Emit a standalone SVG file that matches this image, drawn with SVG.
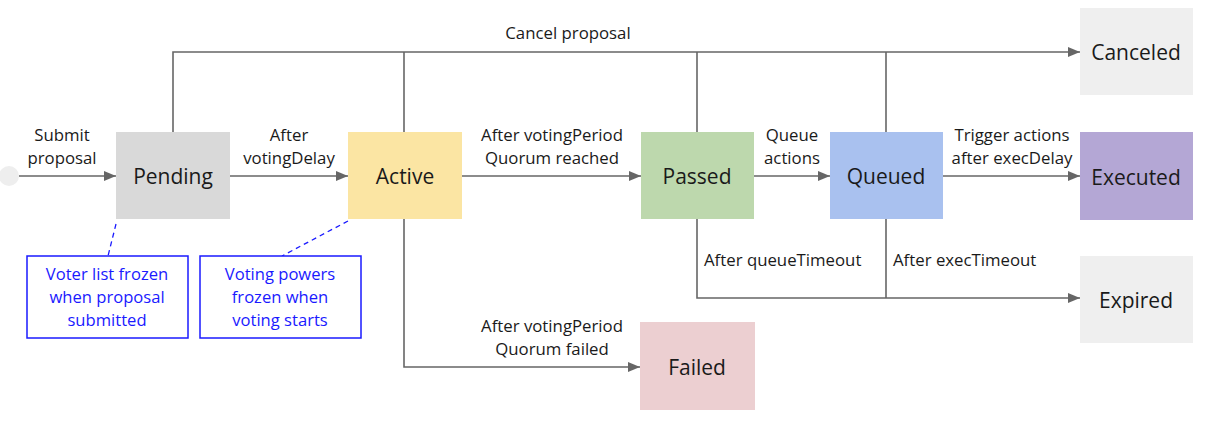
<svg xmlns="http://www.w3.org/2000/svg" width="1214" height="426" viewBox="0 0 1214 426">
<style>
.node{stroke:none}
.nl{font-family:"Open Sans","Noto Sans",sans-serif;font-size:21px;fill:#1a1a1a;text-anchor:middle;dominant-baseline:central}
.el{font-family:"Open Sans","Noto Sans",sans-serif;font-size:16.8px;fill:#1a1a1a;text-anchor:middle}
.el2{font-family:"Open Sans","Noto Sans",sans-serif;font-size:16.8px;fill:#1a1a1a;text-anchor:start}
.c{fill:none;stroke:#666;stroke-width:1.6}
.ca{fill:none;stroke:#666;stroke-width:1.6;marker-end:url(#ah)}
.note{fill:#fff;stroke:#1a1aff;stroke-width:1.5}
.nt{font-family:"Open Sans","Noto Sans",sans-serif;font-size:16.6px;fill:#1a1aff;text-anchor:middle}
.dash{fill:none;stroke:#1a1aff;stroke-width:1.3;stroke-dasharray:5,4}
</style>
<defs>
<marker id="ah" viewBox="0 0 12 10" refX="12" refY="5" markerWidth="12" markerHeight="10" markerUnits="userSpaceOnUse" orient="auto">
<path d="M0,0 L12,5 L0,10 z" fill="#666"/>
</marker>
</defs>
<rect width="1214" height="426" fill="#fff"/>
<g id="connectors">
<line class="ca" x1="19" y1="176" x2="116" y2="176"/>
<line class="ca" x1="229" y1="176" x2="348" y2="176"/>
<line class="ca" x1="462" y1="176" x2="641" y2="176"/>
<line class="ca" x1="754" y1="176" x2="830" y2="176"/>
<line class="ca" x1="943" y1="176" x2="1080" y2="176"/>
<polyline class="ca" points="173,132 173,52 1080,52"/>
<line class="c" x1="404" y1="132" x2="404" y2="52"/>
<line class="c" x1="697" y1="132" x2="697" y2="52"/>
<line class="c" x1="886" y1="132" x2="886" y2="52"/>
<polyline class="ca" points="404,219 404,367 640,367"/>
<polyline class="ca" points="697,219 697,298 1080,298"/>
<line class="c" x1="886" y1="219" x2="886" y2="298"/>
<text class="el" x="568" y="39">Cancel proposal</text>
<text class="el" x="62" y="141">Submit</text>
<text class="el" x="62" y="164">proposal</text>
<text class="el" x="289" y="141">After</text>
<text class="el" x="289" y="164">votingDelay</text>
<text class="el" x="552" y="141">After votingPeriod</text>
<text class="el" x="552" y="164">Quorum reached</text>
<text class="el" x="792" y="141">Queue</text>
<text class="el" x="792" y="164">actions</text>
<text class="el" x="1012" y="141">Trigger actions</text>
<text class="el" x="1012" y="164">after execDelay</text>
<text class="el2" x="704" y="266">After queueTimeout</text>
<text class="el2" x="893" y="266">After execTimeout</text>
<text class="el" x="552" y="332">After votingPeriod</text>
<text class="el" x="552" y="355">Quorum failed</text>
<line class="dash" x1="116" y1="224" x2="108" y2="256"/>
<line class="dash" x1="348" y1="221" x2="282" y2="256"/>
</g>
<g id="start"><circle cx="9" cy="176" r="10" fill="#eeeeee"/></g>
<g id="pending"><rect class="node" x="116" y="132" width="114" height="87" fill="#d9d9d9"/><text class="nl" x="173" y="176">Pending</text></g>
<g id="active"><rect class="node" x="348" y="132" width="114" height="87" fill="#fbe5a3"/><text class="nl" x="405" y="176">Active</text></g>
<g id="passed"><rect class="node" x="641" y="132" width="113" height="87" fill="#bdd8ad"/><text class="nl" x="697" y="176">Passed</text></g>
<g id="queued"><rect class="node" x="830" y="132" width="113" height="87" fill="#a9c1ef"/><text class="nl" x="886" y="176">Queued</text></g>
<g id="canceled"><rect class="node" x="1080" y="8" width="113" height="87" fill="#efefef"/><text class="nl" x="1136" y="52">Canceled</text></g>
<g id="executed"><rect class="node" x="1080" y="132" width="113" height="88" fill="#b4a7d5"/><text class="nl" x="1136" y="177">Executed</text></g>
<g id="expired"><rect class="node" x="1080" y="256" width="113" height="87" fill="#efefef"/><text class="nl" x="1136" y="300">Expired</text></g>
<g id="failed"><rect class="node" x="640" y="322" width="115" height="88" fill="#eccfd1"/><text class="nl" x="697" y="367">Failed</text></g>
<g id="note1"><rect class="note" x="27" y="256" width="161" height="82"/>
<text class="nt" x="107" y="280">Voter list frozen</text>
<text class="nt" x="107" y="303">when proposal</text>
<text class="nt" x="107" y="326">submitted</text></g>
<g id="note2"><rect class="note" x="200" y="256" width="161" height="82"/>
<text class="nt" x="280" y="280">Voting powers</text>
<text class="nt" x="280" y="303">frozen when</text>
<text class="nt" x="280" y="326">voting starts</text></g>
</svg>
